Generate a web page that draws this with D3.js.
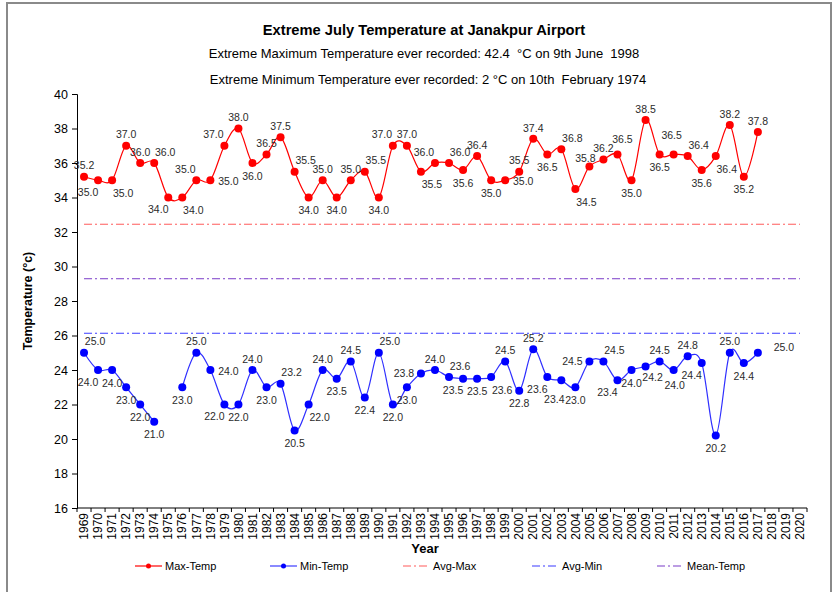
<!DOCTYPE html>
<html>
<head>
<meta charset="utf-8">
<script src="https://cdn.jsdelivr.net/npm/d3@7"></script>
<style>
  body { margin: 0; background: #fff; }
  svg { font-family: "Liberation Sans", Arial, sans-serif; }
</style>
</head>
<body>
<svg id="chart" width="838" height="592"></svg>
<script>
const years = ["1969","1970","1971","1972","1973","1974","1975","1976","1977","1978",
  "1979","1980","1981","1982","1983","1984","1985","1986","1987","1988","1989","1990",
  "1991","1992","1993","1994","1995","1996","1997","1998","1999","2000","2001","2002",
  "2003","2004","2005","2006","2007","2008","2009","2010","2011","2012","2013","2014",
  "2015","2016","2017","2018","2019","2020"];

// 1969 - 2017
const maxTemp = [35.2,35.0,35.0,37.0,36.0,36.0,34.0,34.0,35.0,35.0,37.0,38.0,36.0,36.5,
  37.5,35.5,34.0,35.0,34.0,35.0,35.5,34.0,37.0,37.0,35.5,36.0,36.0,35.6,36.4,35.0,35.0,
  35.5,37.4,36.5,36.8,34.5,35.8,36.2,36.5,35.0,38.5,36.5,36.5,36.4,35.6,36.4,38.2,35.2,37.8];

const minTemp = [25.0,24.0,24.0,23.0,22.0,21.0,null,23.0,25.0,24.0,22.0,22.0,24.0,23.0,
  23.2,20.5,22.0,24.0,23.5,24.5,22.4,25.0,22.0,23.0,23.8,24.0,23.6,23.5,23.5,23.6,24.5,
  22.8,25.2,23.6,23.4,23.0,24.5,24.5,23.4,24.0,24.2,24.5,24.0,24.8,24.4,20.2,25.0,24.4,25.0];

const avgMax = 32.45;
const avgMin = 26.13;
const meanTemp = 29.29;

const yTicks = [16,18,20,22,24,26,28,30,32,34,36,38,40];

// where each data label sits around its point
const maxLabelPos = ["t","bl","br","t","t","tr","bl","br","tl","r","tl","t","b","t","t","tr",
  "b","t","b","t","tr","b","tl","t","br","tl","tr","b","t","b","r","t","t","b","tr","br",
  "lt","t","Tr","b","t","b","T","tr","b","br","t","b","t"];
const minLabelPos = ["tr","bl","b","b","b","b",null,"b","t","r","bl","b","t","b","tr","b",
  "br","t","b","t","b","tr","b","b","l","t","tr","bl","b","br","t","b","t","bl","Bl","b",
  "l","tr","bl","b","Br","t","B","t","bl","b","t","b","R"];

const svg = d3.select("#chart");

const plot = { left: 77, right: 807, top: 94, bottom: 508 };

const x = d3.scaleBand().domain(years).range([plot.left, plot.right]);
const y = d3.scaleLinear().domain([16, 40]).range([plot.bottom, plot.top]);
const cx = (i) => x(years[i]) + x.bandwidth() / 2;

const offsets = {
  t: [0, -11], b: [0, 13], tl: [-11, -11], tr: [11, -11],
  bl: [-10, 12], br: [11, 13], r: [18, 1], l: [-17, 0],
  T: [-2, -19], Tr: [5, -15], lt: [-4, -8], R: [26, -5],
  Bl: [-7, 19], Br: [7, 11], B: [1, 15]
};

// outer frame
svg
  .append("rect")
  .attr("x", 7)
  .attr("y", 3)
  .attr("width", 824)
  .attr("height", 610)
  .attr("fill", "none")
  .attr("stroke", "#8a8a8a")
  .attr("stroke-width", 2);

// titles
svg
  .append("text")
  .attr("x", 424)
  .attr("y", 35)
  .attr("text-anchor", "middle")
  .attr("font-size", "14.7px")
  .attr("font-weight", "bold")
  .text("Extreme July Temperature at Janakpur Airport");

svg
  .append("text")
  .attr("x", 424)
  .attr("y", 58)
  .attr("text-anchor", "middle")
  .attr("font-size", "13px")
  .style("white-space", "pre")
  .text("Extreme Maximum Temperature ever recorded: 42.4  °C on 9th June  1998");

svg
  .append("text")
  .attr("x", 428)
  .attr("y", 84)
  .attr("text-anchor", "middle")
  .attr("font-size", "13px")
  .style("white-space", "pre")
  .text("Extreme Minimum Temperature ever recorded: 2 °C on 10th  February 1974");

// y axis
const yAxis = svg
  .append("g")
  .attr("transform", `translate(${plot.left},0)`)
  .call(d3.axisLeft(y).tickValues(yTicks).tickSize(5).tickPadding(4));
yAxis.select(".domain").attr("stroke", "#000");
yAxis.selectAll("text").attr("font-size", "12.5px").attr("fill", "#000")
  .attr("font-family", "Liberation Sans, Arial, sans-serif");

svg
  .append("text")
  .attr("transform", `translate(32,${(plot.top + plot.bottom) / 2}) rotate(-90)`)
  .attr("text-anchor", "middle")
  .attr("font-size", "12.5px")
  .attr("font-weight", "bold")
  .text("Temperature (°c)");

// x axis with ticks between categories
const xAxis = svg
  .append("g")
  .attr("transform", `translate(0,${plot.bottom})`);
xAxis
  .append("line")
  .attr("x1", plot.left)
  .attr("x2", plot.right)
  .attr("stroke", "#000");
xAxis
  .selectAll(".tk")
  .data(years.concat(["end"]))
  .join("line")
  .attr("class", "tk")
  .attr("x1", (d, i) => (i < years.length ? x(d) : plot.right))
  .attr("x2", (d, i) => (i < years.length ? x(d) : plot.right))
  .attr("y1", 0)
  .attr("y2", 4)
  .attr("stroke", "#000");
xAxis
  .selectAll(".yl")
  .data(years)
  .join("text")
  .attr("class", "yl")
  .attr("transform", (d) => `translate(${x(d) + x.bandwidth() / 2},5) rotate(-90)`)
  .attr("text-anchor", "end")
  .attr("dy", "0.35em")
  .attr("font-size", "12px")
  .text((d) => d);

svg
  .append("text")
  .attr("x", 425)
  .attr("y", 553)
  .attr("text-anchor", "middle")
  .attr("font-size", "13px")
  .attr("font-weight", "bold")
  .text("Year");

// reference lines
const refLines = [
  { value: avgMax, color: "#ff5a5a" },
  { value: meanTemp, color: "#7a3cc8" },
  { value: avgMin, color: "#3b3bff" }
];
refLines.forEach((r) => {
  svg
    .append("line")
    .attr("x1", cx(0))
    .attr("x2", cx(years.length - 1))
    .attr("y1", y(r.value))
    .attr("y2", y(r.value))
    .attr("stroke", r.color)
    .attr("stroke-width", 1)
    .attr("stroke-dasharray", "8,3,2,3");
});

// series
function drawSeries(values, color, lineColor, labelPos) {
  const line = d3
    .line()
    .defined((d) => d != null)
    .x((d, i) => cx(i))
    .y((d) => y(d))
    .curve(d3.curveCardinal.tension(0));

  svg
    .append("path")
    .datum(values)
    .attr("d", line)
    .attr("fill", "none")
    .attr("stroke", lineColor)
    .attr("stroke-width", 1.2);

  const pts = values
    .map((v, i) => ({ v, i }))
    .filter((d) => d.v != null);

  svg
    .append("g")
    .selectAll("circle")
    .data(pts)
    .join("circle")
    .attr("cx", (d) => cx(d.i))
    .attr("cy", (d) => y(d.v))
    .attr("r", 4)
    .attr("fill", color);

  svg
    .append("g")
    .selectAll("text")
    .data(pts)
    .join("text")
    .attr("x", (d) => cx(d.i) + offsets[labelPos[d.i]][0])
    .attr("y", (d) => y(d.v) + offsets[labelPos[d.i]][1])
    .attr("dy", "0.35em")
    .attr("text-anchor", "middle")
    .attr("font-size", "10.5px")
    .attr("fill", "#2b2b2b")
    .text((d) => d.v.toFixed(1));
}

drawSeries(maxTemp, "#ff0000", "#ff0000", maxLabelPos);
drawSeries(minTemp, "#0000ff", "#2f2fff", minLabelPos);

// legend
const legendItems = [
  { name: "Max-Temp", color: "#ff0000", marker: "#ff0000", dash: null, x: 135 },
  { name: "Min-Temp", color: "#3b3bff", marker: "#0000ff", dash: null, x: 270 },
  { name: "Avg-Max", color: "#ff5a5a", marker: null, dash: "8,3,2,3", x: 403 },
  { name: "Avg-Min", color: "#3b3bff", marker: null, dash: "8,3,2,3", x: 532 },
  { name: "Mean-Temp", color: "#7a3cc8", marker: null, dash: "8,3,2,3", x: 657 }
];
const legendY = 566;
legendItems.forEach((item) => {
  const g = svg.append("g").attr("transform", `translate(${item.x},${legendY})`);
  g.append("line")
    .attr("x1", 0)
    .attr("x2", 27)
    .attr("stroke", item.color)
    .attr("stroke-width", 1.2)
    .attr("stroke-dasharray", item.dash);
  if (item.marker) {
    g.append("circle").attr("cx", 13.5).attr("r", 2.5).attr("fill", item.marker);
  }
  g.append("text")
    .attr("x", 30)
    .attr("dy", "0.35em")
    .attr("font-size", "11px")
    .text(item.name);
});
</script>
</body>
</html>
